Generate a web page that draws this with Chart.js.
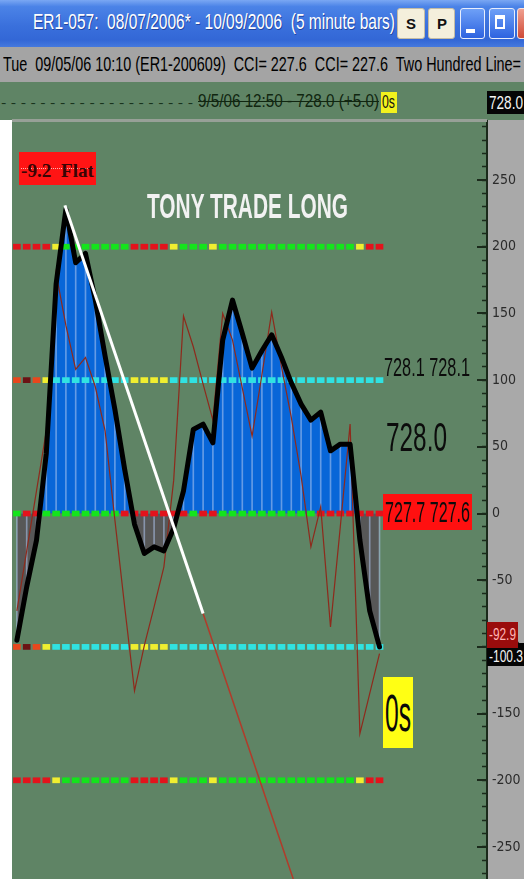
<!DOCTYPE html>
<html>
<head>
<meta charset="utf-8">
<script src="https://cdn.jsdelivr.net/npm/chart.js@4.4.1/dist/chart.umd.min.js"></script>
<style>
html,body{margin:0;padding:0;background:#fff;}
#root{position:relative;width:524px;height:879px;overflow:hidden;background:#fff;}
.abs{position:absolute;}
.t{position:absolute;white-space:pre;line-height:1;font-family:"Liberation Sans",Arial,sans-serif;transform-origin:0 0;}
#titlebar{left:0;top:0;width:524px;height:47px;background:linear-gradient(#7aa7f3,#4b83e7 14%,#3a70dc 55%,#3367d6 85%,#4579de);}
#header{left:0;top:47px;width:524px;height:35px;background:#a4a4a4;}
#strip{left:0;top:82px;width:524px;height:38px;background:#5f8465;}
#sep{left:12px;top:119px;width:475px;height:3px;background:#97a097;}
canvas{position:absolute;left:0;top:120px;}
.btn{position:absolute;top:8px;height:31px;border-radius:3px;box-sizing:border-box;}
</style>
</head>
<body>
<div id="root">
  <div class="abs" id="titlebar"></div>
  <div class="t fit" data-x="33" data-y="14" data-h="16" data-w="362" style="color:#fff;text-shadow:1px 1px 0 #21449e;">ER1-057:  08/07/2006* - 10/09/2006  (5 minute bars)</div>
  <div class="btn" style="left:397px;width:28px;background:#f4efdc;border:1px solid #c4bca4;"></div>
  <div class="t fit" data-x="406" data-y="18" data-h="11" data-w="10" style="font-weight:bold;color:#111">S</div>
  <div class="btn" style="left:428px;width:27px;background:#f4efdc;border:1px solid #c4bca4;"></div>
  <div class="t fit" data-x="437" data-y="18" data-h="11" data-w="10" style="font-weight:bold;color:#111">P</div>
  <div class="btn" style="left:460px;width:25px;background:linear-gradient(#6ea0f7,#2d63e0);border:1px solid #e8eefc;"></div>
  <div class="abs" style="left:466px;top:29px;width:9px;height:4px;background:#fff"></div>
  <div class="btn" style="left:489px;width:26px;background:linear-gradient(#6ea0f7,#2d63e0);border:1px solid #e8eefc;"></div>
  <div class="abs" style="left:495px;top:15px;width:10px;height:14px;border:2px solid #fff;border-top-width:4px;box-sizing:border-box;"></div>
  <div class="btn" style="left:517px;width:26px;background:linear-gradient(#f0a090,#cf4a36);border:1px solid #f4e4e0;"></div>

  <div class="abs" id="header"></div>
  <div class="t fit" data-x="3" data-y="58" data-h="14" data-w="518" style="color:#000">Tue  09/05/06 10:10 (ER1-200609)  CCI= 227.6  CCI= 227.6  Two Hundred Line=</div>

  <div class="abs" id="strip"></div>
  <div class="t fit" data-x="1" data-y="99" data-h="9" data-w="192" style="color:#17331b">- - - - - - - - - - - - - - - - - - - -</div>
  <div class="t fit" data-x="198" data-y="94" data-h="13" data-w="181" style="color:#102610;text-decoration:line-through;">9/5/06 12:50 - 728.0 (+5.0)</div>
  <div class="abs" style="left:381px;top:92px;width:16px;height:21px;background:#f2f21e"></div>
  <div class="t fit" data-x="382" data-y="95" data-h="13" data-w="13" style="color:#111">0s</div>
  <div class="abs" style="left:487px;top:91px;width:37px;height:23px;background:#050505"></div>
  <div class="t fit" data-x="489" data-y="96" data-h="13" data-w="34" style="color:#f4f4f4">728.0</div>

  <canvas id="c" width="524" height="759"></canvas>
  <div class="abs" id="sep"></div>

  <div class="abs" style="left:19px;top:152px;width:77px;height:33px;background:#ff1414"></div>
  <div class="abs" style="left:21px;top:168px;width:73px;height:0;border-top:1px dotted rgba(255,220,220,0.8)"></div>
  <div class="t fit" data-x="21" data-y="164" data-h="13" data-w="73" style="color:#3a0505;font-family:'Liberation Serif',serif;font-weight:bold">-9.2  Flat</div>

  <div class="t fit" data-x="147" data-y="194" data-h="25" data-w="201" style="color:#f2f2f2;font-weight:bold">TONY TRADE LONG</div>

  <div class="t fit" data-x="384" data-y="358" data-h="18" data-w="86" style="color:#0c0c0c">728.1 728.1</div>
  <div class="t fit" data-x="386" data-y="422" data-h="29" data-w="61" style="color:#0c0c0c">728.0</div>

  <div class="abs" style="left:383px;top:494px;width:89px;height:36px;background:#ff1010"></div>
  <div class="t fit" data-x="385" data-y="501" data-h="21" data-w="85" style="color:#0c0c0c">727.7 727.6</div>

  <div class="abs" style="left:383px;top:677px;width:30px;height:71px;background:#ffff14"></div>
  <div class="t fit" data-x="385" data-y="695" data-h="37" data-w="26" style="color:#0a0a0a">0s</div>

  <div class="abs" style="left:487px;top:643px;width:37px;height:23px;background:#050505"></div>
  <div class="t fit" data-x="489" data-y="651" data-h="12" data-w="34" style="color:#f4f4f4">-100.3</div>
  <div class="abs" style="left:487px;top:622px;width:31px;height:26px;background:#9a0c0c"></div>
  <div class="t fit" data-x="489" data-y="629" data-h="12" data-w="27" style="color:#ffb4b4">-92.9</div>
</div>

<script>
// ---- data ----
// slow CCI (thick black line + histogram), one value per 5-minute bar
const cci = [-95, -55, -20, 45, 172, 228, 188, 195, 160, 118, 78, 33, -8, -30, -25, -28, -11, 17, 63, 67,
             53, 130, 160, 135, 109, 122, 134, 117, 98, 82, 70, 76, 47, 52, 52, -20, -73, -100];
// fast CCI (thin brown line)
const fastCci = [-73, -28, 17, 62, 180, 141, 108, 117, 95, 62, -5, -70, -133, -99, -70, -40, 25, 148, 125, 97,
                 70, 150, 130, 94, 58, 104, 151, 110, 72, 28, -25, 5, -85, -10, 67, -165, -135, -105];
// state of each bar on the dotted reference lines
const levels = [200, 100, 0, -100, -200];
const state200 = ['R','R','R','R','Y','G','G','G','G','G','G','G','R','R','R','R','Y','G','G','G',
                  'Y','G','G','G','G','G','G','G','G','G','G','G','G','G','G','Y','R','R'];
const state100 = ['O','D','O','Y','C','C','C','C','C','C','C','C','Y','Y','Y','Y','C','C','C','C',
                  'C','C','C','C','C','C','C','C','C','C','C','C','C','C','C','C','C','C'];
const state0   = ['G','R','R','G','G','G','G','G','G','G','G','R','R','R','R','R','R','R','G','R',
                  'R','G','G','G','G','G','G','G','G','G','G','R','R','R','R','R','R','R'];
// hand-drawn trend line (white) and its red extension, in bar index / CCI units
const trendX = [4.9, 19.0];
const trendY = [231, -75];
const extX = [19.0, 28.2];
const extY = [-75, -274];
// right axis
const yMin = -274, yMax = 295, majorStep = 50, minorStep = 10;

// ---- layout of text overlays ----
document.querySelectorAll('.fit').forEach(el => {
  const h = +el.dataset.h, fs = h / 0.716;
  el.style.fontSize = fs + 'px';
  el.style.left = el.dataset.x + 'px';
  el.style.top = (+el.dataset.y - 0.13 * fs) + 'px';
  const w = el.getBoundingClientRect().width;
  el.style.transform = 'scaleX(' + (+el.dataset.w / w) + ')';
});

function hasFont(name) {
  const c = document.createElement('canvas').getContext('2d');
  c.font = '40px monospace';
  const a = c.measureText('-250 mmmwwil').width;
  c.font = '40px "' + name + '", monospace';
  const b = c.measureText('-250 mmmwwil').width;
  return Math.abs(a - b) > 0.5;
}
const tickFont = hasFont('Liberation Sans Narrow')
  ? {family: '"Liberation Sans Narrow"', size: 17}
  : {family: '"DejaVu Sans Condensed", "Liberation Sans"', size: 14};

const stateColor = {R: '#e3131c', G: '#14e41c', Y: '#f0ee30', C: '#30e2e2', O: '#e8471d', D: '#6b1214'};
const stateFor = {200: state200, 100: state100, 0: state0, '-100': state100, '-200': state200};
const pts = arr => arr.map((v, i) => ({x: i, y: v}));
const SQ = 1.9; // half height of the dotted-line squares, in CCI units

const levelSets = levels.map(lv => ({
  type: 'bar',
  data: stateFor[lv].map((s, i) => ({x: i, y: [lv - SQ, lv + SQ]})),
  backgroundColor: stateFor[lv].map(s => stateColor[s]),
  borderWidth: 0,
  barThickness: 7,
  grouped: false,
  order: 7
}));

const bgPlugin = {
  id: 'bg',
  beforeDraw(chart) {
    const {ctx, chartArea: a, width, height} = chart;
    ctx.save();
    ctx.fillStyle = '#ffffff';
    ctx.fillRect(0, 0, width, height);
    ctx.fillStyle = '#5f8465';
    ctx.fillRect(a.left, a.top, a.right - a.left, a.bottom - a.top);
    ctx.fillStyle = '#a9a9a9';
    ctx.fillRect(a.right, 0, width - a.right, height);
    ctx.restore();
  }
};
const majorTicks = {
  id: 'majorTicks',
  afterDraw(chart) {
    const s = chart.scales.y, ctx = chart.ctx;
    ctx.save();
    ctx.strokeStyle = '#1b2a1b';
    ctx.lineWidth = 2;
    ctx.beginPath();
    for (let v = Math.ceil(yMin / majorStep) * majorStep; v <= yMax; v += majorStep) {
      const y = Math.round(s.getPixelForValue(v));
      ctx.moveTo(s.left - 10, y);
      ctx.lineTo(s.left, y);
    }
    ctx.stroke();
    ctx.restore();
  }
};

new Chart(document.getElementById('c'), {
  type: 'line',
  data: {
    datasets: [
      {
        type: 'line', data: pts(cci), borderWidth: 0, pointRadius: 0,
        fill: {target: 'origin', above: '#0866d8', below: '#575757'}, order: 10
      },
      {
        type: 'bar', data: pts(cci), backgroundColor: 'rgba(175,198,240,0.55)',
        barThickness: 1, grouped: false, borderWidth: 0, order: 9
      },
      ...levelSets,
      {
        type: 'line', data: pts(fastCci), borderColor: '#8e2a1c', borderWidth: 1.2,
        pointRadius: 0, fill: false, order: 5
      },
      {
        type: 'line', data: pts(cci), borderColor: '#000000', borderWidth: 5,
        borderJoinStyle: 'round', borderCapStyle: 'round', pointRadius: 0, fill: false, order: 4
      },
      {
        type: 'line', data: trendX.map((x, i) => ({x, y: trendY[i]})), borderColor: '#ffffff',
        borderWidth: 3, pointRadius: 0, fill: false, order: 3
      },
      {
        type: 'line', data: extX.map((x, i) => ({x, y: extY[i]})), borderColor: '#b23b2a',
        borderWidth: 1.5, pointRadius: 0, fill: false, order: 3
      }
    ]
  },
  options: {
    responsive: false,
    animation: false,
    devicePixelRatio: 1,
    events: [],
    layout: {padding: {left: 12, top: 0, right: 0, bottom: 0}},
    plugins: {legend: {display: false}, tooltip: {enabled: false}},
    scales: {
      x: {type: 'linear', offset: false, grace: 0, bounds: 'ticks', min: -0.5, max: -0.5 + 475 / 9.8, display: false},
      y: {
        position: 'right', min: yMin, max: yMax, offset: false,
        afterFit(s) { s.width = 37; s.paddingTop = 0; s.paddingBottom = 0; },
        border: {display: true, color: '#1b2a1b', width: 2},
        grid: {drawOnChartArea: false, drawTicks: true, tickLength: -5, tickColor: '#1b2a1b', tickWidth: 1.5},
        ticks: {
          stepSize: minorStep, autoSkip: false, includeBounds: false, padding: 10,
          color: '#2b2b2b', font: tickFont,
          callback: v => (v % majorStep === 0 ? String(v) : '')
        }
      }
    }
  },
  plugins: [bgPlugin, majorTicks]
});
</script>
</body>
</html>
